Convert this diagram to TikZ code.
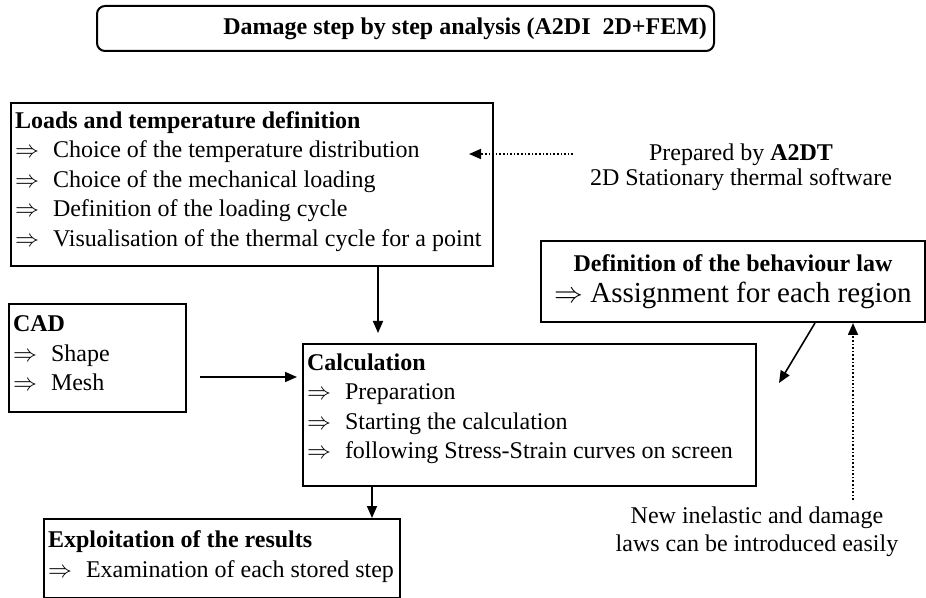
\documentclass[tikz,border=0pt]{standalone}
\usepackage{fontspec}
\setmainfont{Liberation Serif}
\usetikzlibrary{arrows.meta}

\tikzstyle{stage}=[draw, line width=1pt, align=flush left, anchor=north west,
    inner xsep=2pt, font=\fontsize{12}{14.75}\selectfont]
\tikzstyle{header}=[stage, rounded corners=4pt, align=flush right, inner xsep=3.5pt,
    font=\fontsize{12}{14.75}\selectfont\bfseries]
\tikzstyle{remark}=[align=flush center, font=\fontsize{12}{12.5}\selectfont]
\tikzstyle{flow}=[->, line width=0.8pt]
\tikzstyle{hint}=[flow, densely dotted]
\newcommand{\goesto}{\makebox[19pt][l]{$\Rightarrow$}}
% empty last line, lifts the text a little inside its box
\newcommand{\tailskip}[1]{\\[#1]\mbox{}}

\begin{document}
\begin{tikzpicture}[x=0.5pt,y=-0.5pt,>={Triangle[length=6pt,width=5pt]}]
	\useasboundingbox (0,0) rectangle (926,598);

	% Define the nodes in the picture
	\node (title) [header, text width=301.5pt, minimum height=22.5pt] at (96,5)
		{Damage step by step analysis (A2DI~ 2D+FEM)};
	\node (loads) [stage, text width=237pt, minimum height=81.5pt] at (10,102)
		{\textbf{Loads and temperature definition}\\
		 \goesto Choice of the temperature distribution\\
		 \goesto Choice of the mechanical loading\\
		 \goesto Definition of the loading cycle\\
		 \goesto Visualisation of the thermal cycle for a point\tailskip{-9pt}};
	\node (prep) [remark] at (741,167)
		{Prepared by \textbf{A2DT}\\2D Stationary thermal software};
	\node (behav) [stage, align=flush center, text width=188pt, minimum height=40.5pt] at (540,240)
		{\textbf{Definition of the behaviour law}\\[1pt]
		 {\fontsize{14.5}{16}\selectfont $\Rightarrow$ Assignment for each region}};
	\node (cad) [stage, text width=84.5pt, minimum height=54pt] at (8,303)
		{\textbf{CAD}\\ \goesto Shape\\ \goesto Mesh\tailskip{-10pt}};
	\node (calc) [stage, text width=222.5pt, minimum height=71pt] at (302,343)
		{\textbf{Calculation}\\
		 \goesto Preparation\\
		 \goesto Starting the calculation\\
		 \goesto following Stress-Strain curves on screen\tailskip{-6pt}};
	\node (exploit) [stage, text width=174pt, minimum height=39.5pt] at (43,518)
		{\textbf{Exploitation of the results}\\
		 \goesto Examination of each stored step\tailskip{-10.5pt}};
	\node (newlaw) [remark, font=\fontsize{12}{14}\selectfont] at (757,532)
		{New inelastic and damage\\laws can be introduced easily};

	% Points where the connectors leave or meet the boxes
	\coordinate (drop) at ([xshift=63pt]loads.south);
	\coordinate (cadout) at ([shift={(6.5pt,-9.5pt)}]cad.east);
	\coordinate (res) at ([xshift=75pt]exploit.north);
	\coordinate (feed) at ([xshift=60pt]behav.south);
	\coordinate (tipin) at ([shift={(-12.5pt,15.25pt)}]loads.east);

	% Define the edges in the picture
	\draw [flow, shorten >=5pt] (drop) -- (drop |- calc.north);
	\draw [flow, shorten >=2.5pt] (cadout) -- (cadout -| calc.west);
	\draw [flow] (res |- calc.south) -- (res);
	\draw [flow] ([xshift=41pt]behav.south) -- ([shift={(11pt,16pt)}]calc.east);
	\draw [hint] (feed |- newlaw.north) -- (feed);
	\draw [hint, shorten <=5pt] (prep.west |- tipin) -- (tipin);
\end{tikzpicture}
\end{document}
